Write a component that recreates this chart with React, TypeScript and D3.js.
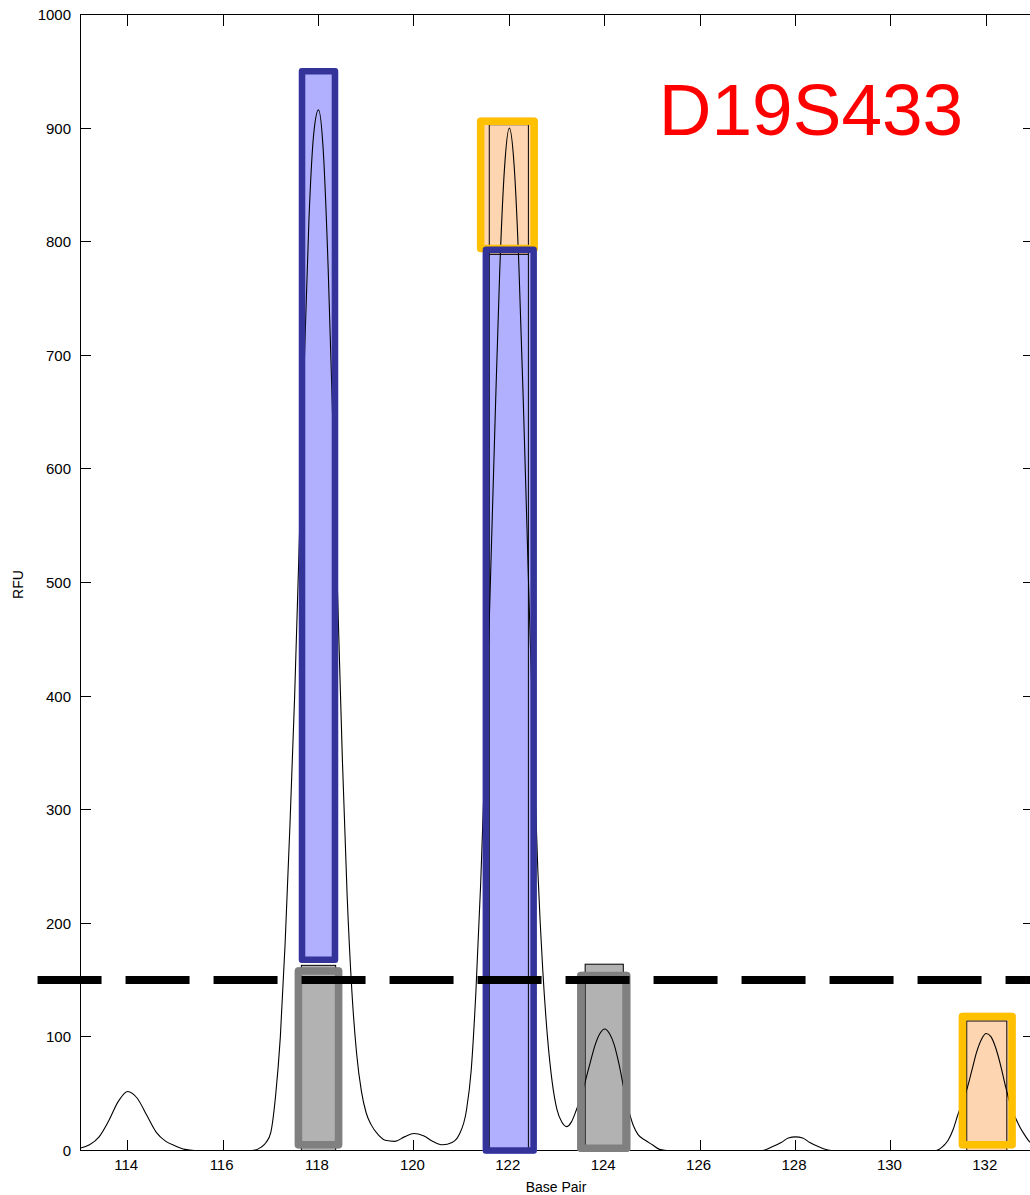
import React from "react";
import * as d3 from "d3";

const W = 1030;
const H = 1195;

// Axis ticks
const bpTicks = [114, 116, 118, 120, 122, 124, 126, 128, 130, 132];
const rfuTicks = [0, 100, 200, 300, 400, 500, 600, 700, 800, 900, 1000];
const bpDomain: [number, number] = [113, 133];
const rfuDomain: [number, number] = [0, 1000];

const locusName = "D19S433";
const xLabel = "Base Pair";
const yLabel = "RFU";

// Analytical threshold (RFU) and where its dashed line begins (bp)
const threshold = 150;
const thresholdStartBp = 112.11;
const thresholdEndBp = 134;

// Electropherogram trace: [base pair, RFU]
const tracePoints: [number, number][] = [
  [113.0, 2], [113.2, 5], [113.4, 12], [113.6, 26], [113.8, 43], [114.0, 52],
  [114.2, 46], [114.4, 31], [114.6, 16], [114.8, 8], [115.0, 4], [115.2, 1],
  [115.4, 0], [116.6, 0], [116.8, 3], [116.9, 7], [117.0, 16], [117.1, 48],
  [117.2, 100], [117.3, 182], [117.4, 285], [117.5, 400], [117.6, 540],
  [117.7, 690], [117.8, 820], [117.9, 895], [118.0, 916], [118.1, 880],
  [118.2, 780], [118.3, 640], [118.4, 490], [118.5, 345], [118.6, 225],
  [118.7, 140], [118.8, 85], [118.9, 52], [119.0, 33], [119.1, 23],
  [119.25, 14], [119.4, 9], [119.6, 8], [119.8, 12], [120.0, 15], [120.2, 13],
  [120.4, 8], [120.6, 5], [120.8, 7], [120.95, 14], [121.1, 35], [121.2, 70],
  [121.3, 140], [121.4, 235], [121.5, 355], [121.6, 495], [121.7, 640],
  [121.8, 775], [121.9, 865], [122.0, 900], [122.1, 868], [122.2, 780],
  [122.3, 650], [122.4, 505], [122.5, 365], [122.6, 245], [122.7, 160],
  [122.8, 100], [122.9, 60], [123.0, 36], [123.1, 25], [123.2, 21],
  [123.3, 25], [123.4, 35], [123.5, 47], [123.6, 62], [123.7, 78],
  [123.8, 93], [123.9, 103], [124.0, 107], [124.1, 103], [124.2, 93],
  [124.3, 76], [124.4, 55], [124.5, 36], [124.6, 22], [124.7, 14],
  [124.85, 9], [125.0, 5], [125.15, 1], [125.3, 0], [127.3, 0], [127.5, 3],
  [127.7, 7], [127.85, 11], [128.0, 12], [128.15, 11], [128.3, 7], [128.5, 3],
  [128.75, 0], [130.95, 0], [131.1, 4], [131.2, 9], [131.3, 18], [131.4, 31],
  [131.5, 43], [131.6, 55], [131.7, 71], [131.8, 87], [131.9, 98],
  [132.0, 103], [132.1, 100], [132.2, 90], [132.3, 75], [132.4, 57],
  [132.5, 41], [132.6, 30], [132.7, 21], [132.8, 14], [132.9, 8], [133.0, 5],
];

type Kind = "major" | "minor" | "stutter";
interface Box { bp: number; half: number; lo: number; hi: number; kind: Kind }

// Contributor shares per allele (outlined boxes)
const shareBoxes: Box[] = [
  { bp: 118.0, half: 0.42, lo: 5, hi: 158, kind: "stutter" },
  { bp: 118.0, half: 0.345, lo: 168, hi: 950, kind: "major" },
  { bp: 121.96, half: 0.56, lo: 794, hi: 906, kind: "minor" },
  { bp: 122.01, half: 0.5, lo: 0, hi: 793, kind: "major" },
  { bp: 123.98, half: 0.48, lo: 2, hi: 154, kind: "stutter" },
  { bp: 132.02, half: 0.52, lo: 5, hi: 118, kind: "minor" },
];

// Allele bins (thin boxes)
const binBoxes: Box[] = [
  { bp: 118.0, half: 0.36, lo: 0, hi: 163, kind: "stutter" },
  { bp: 121.99, half: 0.41, lo: 0, hi: 789, kind: "major" },
  { bp: 121.99, half: 0.41, lo: 789, hi: 903, kind: "minor" },
  { bp: 123.99, half: 0.4, lo: 0, hi: 164, kind: "stutter" },
  { bp: 132.01, half: 0.42, lo: 0, hi: 114, kind: "minor" },
];

const kindStyle: Record<Kind, { fill: string; stroke: string; width: number }> = {
  major: { fill: "#b0b0ff", stroke: "#333399", width: 6.5 },
  minor: { fill: "#fdd5b0", stroke: "#ffc000", width: 7.5 },
  stutter: { fill: "#b2b2b2", stroke: "#808080", width: 7.5 },
};

const FONT = "'Liberation Sans', Arial, Helvetica, sans-serif";

export default function App() {
  const left = 80;
  const right = 1034;
  const top = 14.5;
  const bottom = 1150.5;
  const tickLen = 11;

  const x = d3.scaleLinear().domain(bpDomain).range([left, right]);
  const y = d3.scaleLinear().domain(rfuDomain).range([bottom, top]);

  const trace = d3
    .line<[number, number]>()
    .x((d) => x(d[0]))
    .y((d) => y(d[1]))
    .curve(d3.curveMonotoneX)(tracePoints) as string;

  const boxRect = (b: Box) => ({
    x: x(b.bp - b.half),
    y: y(b.hi),
    width: x(b.bp + b.half) - x(b.bp - b.half),
    height: y(b.lo) - y(b.hi),
  });

  const yThr = y(threshold);

  return (
    <div style={{ position: "absolute", left: 0, top: 0, width: W, height: H, overflow: "hidden", background: "#fff" }}>
      <svg width={W} height={H} style={{ display: "block" }} fontFamily={FONT}>
        <rect x={0} y={0} width={W} height={H} fill="#fff" />

        {/* axes box */}
        <g stroke="#000" strokeWidth={1} fill="none" shapeRendering="crispEdges">
          <rect x={left} y={top} width={right - left} height={bottom - top} />
          {rfuTicks.map((t) => (
            <g key={"yt" + t}>
              <line x1={left} x2={left + tickLen} y1={y(t)} y2={y(t)} />
              <line x1={right} x2={right - tickLen} y1={y(t)} y2={y(t)} />
            </g>
          ))}
          {bpTicks.map((t) => (
            <g key={"xt" + t}>
              <line x1={x(t)} x2={x(t)} y1={bottom} y2={bottom - tickLen} />
              <line x1={x(t)} x2={x(t)} y1={top} y2={top + tickLen} />
            </g>
          ))}
        </g>

        {/* tick labels */}
        <g fontSize={15} fill="#000">
          {rfuTicks.map((t) => (
            <text key={"yl" + t} x={71} y={y(t)} dy="0.36em" textAnchor="end">
              {t}
            </text>
          ))}
          {bpTicks.map((t) => (
            <text key={"xl" + t} x={x(t) - 1.5} y={1170} textAnchor="middle">
              {t}
            </text>
          ))}
        </g>
        <text x={556} y={1192} fontSize={14} textAnchor="middle" fill="#000">
          {xLabel}
        </text>
        <text
          transform={`translate(23, ${(top + bottom) / 2 + 2}) rotate(-90)`}
          fontSize={14}
          textAnchor="middle"
          fill="#000"
        >
          {yLabel}
        </text>

        {/* share box fills */}
        {shareBoxes.map((b, i) => {
          const r = boxRect(b);
          const s = kindStyle[b.kind];
          return (
            <rect key={"sf" + i} {...r} fill={s.fill} stroke={s.fill} strokeWidth={s.width} strokeLinejoin="round" />
          );
        })}

        {/* bins */}
        {binBoxes.map((b, i) => {
          const r = boxRect(b);
          return (
            <rect key={"bin" + i} {...r} fill={kindStyle[b.kind].fill} stroke="#000" strokeWidth={1} />
          );
        })}

        {/* trace */}
        <path d={trace} fill="none" stroke="#000" strokeWidth={1.1} />

        {/* share box outlines */}
        {shareBoxes.map((b, i) => {
          const r = boxRect(b);
          const s = kindStyle[b.kind];
          return (
            <rect key={"so" + i} {...r} fill="none" stroke={s.stroke} strokeWidth={s.width} strokeLinejoin="round" />
          );
        })}

        {/* threshold */}
        <line
          x1={x(thresholdStartBp)}
          x2={x(thresholdEndBp)}
          y1={yThr}
          y2={yThr}
          stroke="#000"
          strokeWidth={8}
          strokeDasharray="64 24"
        />

        {/* locus name */}
        <text x={811} y={135} fontSize={73} textAnchor="middle" fill="#ff0000">
          {locusName}
        </text>
      </svg>
    </div>
  );
}
